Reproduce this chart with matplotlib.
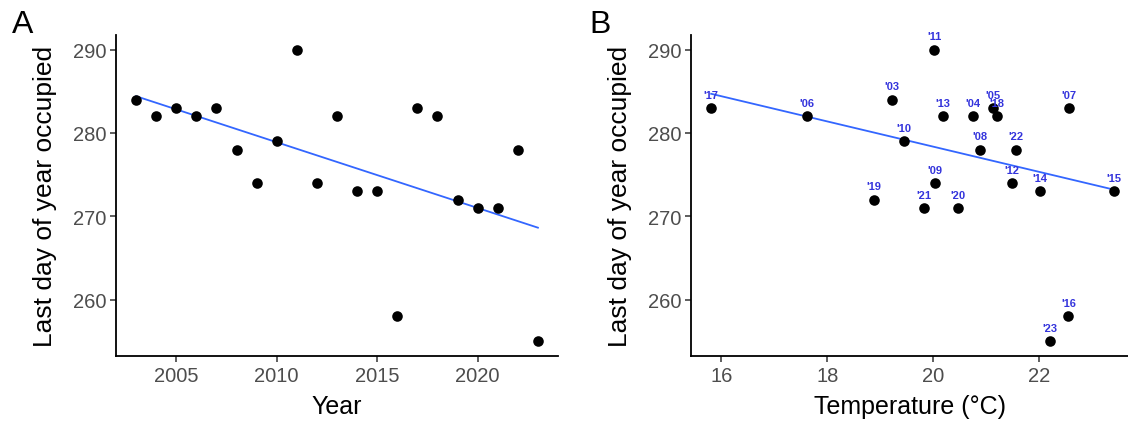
import numpy as np
import matplotlib
matplotlib.use("Agg")
import matplotlib.pyplot as plt

plt.rcParams["font.family"] = ["Liberation Sans", "DejaVu Sans"]

# Panel A: last day of year occupied per year
years = [2003, 2004, 2005, 2006, 2007, 2008, 2009, 2010, 2011, 2012, 2013,
         2014, 2015, 2016, 2017, 2018, 2019, 2020, 2021, 2022, 2023]
last_day = [284, 282, 283, 282, 283, 278, 274, 279, 290, 274, 282,
            273, 273, 258, 283, 282, 272, 271, 271, 278, 255]

# Panel B: mean temperature per year (same order as years)
temperature = [19.22, 20.75, 21.13, 17.61, 22.56, 20.89, 20.03, 19.44, 20.02, 21.49, 20.18,
               22.01, 23.41, 22.55, 15.81, 21.21, 18.88, 20.47, 19.82, 21.57, 22.21]
year_labels = ["'%02d" % (y % 100) for y in years]

# fitted trend line of panel B at its two ends
trend_b_temp = [15.81, 23.41]
trend_b_day = [284.7, 273.2]

FIG_W, FIG_H = 1128, 427
fig = plt.figure(figsize=(FIG_W / 100, FIG_H / 100), dpi=100)

bottom = (FIG_H - 357) / FIG_H
height = (357 - 36) / FIG_H
axA = fig.add_axes([116 / FIG_W, bottom, (558 - 116) / FIG_W, height])
axB = fig.add_axes([691 / FIG_W, bottom, (1128 - 691) / FIG_W, height])

LINE_BLUE = "#3366FF"
TXT_BLUE = "#3434dc"


def style(ax, xlabel):
    for s in ("top", "right"):
        ax.spines[s].set_visible(False)
    for s in ("left", "bottom"):
        ax.spines[s].set_linewidth(1.3)
        ax.spines[s].set_color("black")
    ax.tick_params(axis="both", labelsize=14.5, labelcolor="#4D4D4D", color="#333333",
                   length=4, width=1.1, pad=3)
    ax.set_ylim(253.25, 291.75)
    ax.set_yticks([260, 270, 280, 290])
    ax.set_ylabel("Last day of year occupied", fontsize=19)
    ax.set_xlabel(xlabel, fontsize=18)
    w = ax.get_position().width * FIG_W
    ax.yaxis.set_label_coords(-59 / w, 0.5)
    ax.xaxis.set_label_coords(0.5, -38 / 321)


# ---- A ----
xa = np.array(years, dtype=float)
ya = np.array(last_day, dtype=float)
ka, ba = np.polyfit(xa, ya, 1)
xx = np.array([xa.min(), xa.max()])
axA.plot(xx, ka * xx + ba, color=LINE_BLUE, lw=1.3, zorder=2)
axA.scatter(xa, ya, s=58, color="black", zorder=3, linewidths=0)
axA.set_xlim(2002, 2024)
axA.set_xticks([2005, 2010, 2015, 2020])
style(axA, "Year")

# ---- B ----
xb = np.array(temperature)
axB.plot(trend_b_temp, trend_b_day, color=LINE_BLUE, lw=1.3, zorder=2)
axB.scatter(xb, ya, s=58, color="black", zorder=3, linewidths=0)
for x, y, lab in zip(xb, ya, year_labels):
    axB.text(x, y + 1.0, lab, color=TXT_BLUE, fontsize=8, fontweight="bold",
             ha="center", va="bottom", zorder=4)
axB.set_xlim(15.43, 15.43 + (1128 - 691) / 53.0)
axB.set_xticks([16, 18, 20, 22])
style(axB, "Temperature (°C)")

fig.text(12 / FIG_W, 1 - 33 / FIG_H, "A", fontsize=23, ha="left", va="baseline")
fig.text(589 / FIG_W, 1 - 33 / FIG_H, "B", fontsize=23, ha="left", va="baseline")

fig.savefig("out.png", dpi=100)
